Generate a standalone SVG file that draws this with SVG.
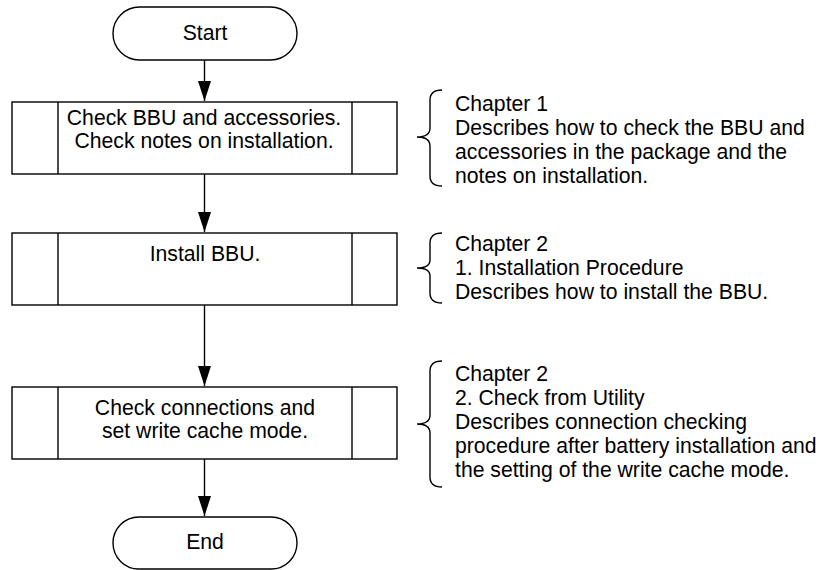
<svg xmlns="http://www.w3.org/2000/svg" width="823" height="570" viewBox="0 0 823 570">
<style>
.s{fill:#fff;stroke:#000;stroke-width:1.4}
.l{fill:none;stroke:#000;stroke-width:1.4}
.t{font-family:"Liberation Sans",Arial,sans-serif;font-size:21.2px;fill:#000}
.c{text-anchor:middle}
</style>
<defs>
<marker id="ah" markerUnits="userSpaceOnUse" markerWidth="20" markerHeight="13" refX="20" refY="6.5" orient="auto" viewBox="0 0 20 13">
<path d="M0,0 L20,6.5 L0,13 Z" fill="#000"/>
</marker>
</defs>
<g id="connectors">
<line class="l" x1="204.5" y1="60" x2="204.5" y2="101" marker-end="url(#ah)"/>
<line class="l" x1="204.5" y1="174" x2="204.5" y2="232" marker-end="url(#ah)"/>
<line class="l" x1="204.5" y1="305" x2="204.5" y2="386" marker-end="url(#ah)"/>
<line class="l" x1="204.5" y1="459" x2="204.5" y2="516" marker-end="url(#ah)"/>
</g>
<g id="start">
<rect class="s" x="113" y="7" width="184" height="53" rx="26.5" ry="26.5"/>
<text class="t c" x="205" y="40">Start</text>
</g>
<g id="step1">
<rect class="s" x="12" y="102" width="385" height="72"/>
<line class="l" x1="58" y1="102" x2="58" y2="174"/>
<line class="l" x1="352" y1="102" x2="352" y2="174"/>
<text class="t c" x="204" y="125">Check BBU and accessories.</text>
<text class="t c" x="204" y="148">Check notes on installation.</text>
</g>
<g id="step2">
<rect class="s" x="12" y="233" width="385" height="72"/>
<line class="l" x1="58" y1="233" x2="58" y2="305"/>
<line class="l" x1="352" y1="233" x2="352" y2="305"/>
<text class="t c" x="205" y="261">Install BBU.</text>
</g>
<g id="step3">
<rect class="s" x="12" y="387" width="385" height="72"/>
<line class="l" x1="58" y1="387" x2="58" y2="459"/>
<line class="l" x1="352" y1="387" x2="352" y2="459"/>
<text class="t c" x="205" y="415">Check connections and</text>
<text class="t c" x="205" y="438">set write cache mode.</text>
</g>
<g id="end">
<rect class="s" x="113" y="517" width="184" height="52" rx="26" ry="26"/>
<text class="t c" x="205" y="549">End</text>
</g>
<g id="note1">
<path class="l" d="M442,90 Q430,90 430,100 L430,128 Q430,137 417,137 Q430,137 430,146 L430,176 Q430,186 442,186"/>
<text class="t" x="455" y="111">Chapter 1</text>
<text class="t" x="455" y="135">Describes how to check the BBU and</text>
<text class="t" x="455" y="159">accessories in the package and the</text>
<text class="t" x="455" y="183">notes on installation.</text>
</g>
<g id="note2">
<path class="l" d="M442,233 Q430,233 430,243 L430,260 Q430,268 417,268 Q430,268 430,276 L430,293 Q430,303 442,303"/>
<text class="t" x="455" y="251">Chapter 2</text>
<text class="t" x="455" y="275">1. Installation Procedure</text>
<text class="t" x="455" y="299">Describes how to install the BBU.</text>
</g>
<g id="note3">
<path class="l" d="M442,361 Q430,361 430,371 L430,415 Q430,424 417,424 Q430,424 430,433 L430,477 Q430,487 442,487"/>
<text class="t" x="455" y="381">Chapter 2</text>
<text class="t" x="455" y="405">2. Check from Utility</text>
<text class="t" x="455" y="429">Describes connection checking</text>
<text class="t" x="455" y="453">procedure after battery installation and</text>
<text class="t" x="455" y="477">the setting of the write cache mode.</text>
</g>
</svg>
